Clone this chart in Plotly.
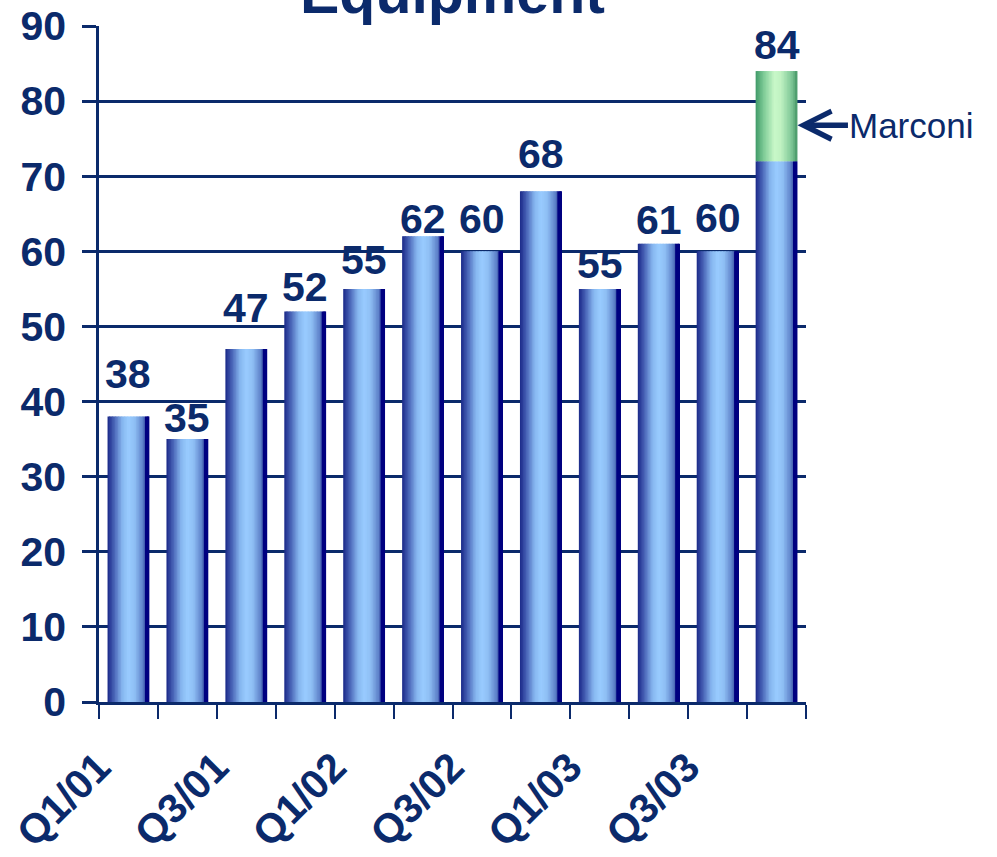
import plotly.graph_objects as go

# Quarterly equipment figures; the last quarter includes the Marconi contribution
quarters = ["Q1/01", "Q2/01", "Q3/01", "Q4/01", "Q1/02", "Q2/02",
            "Q3/02", "Q4/02", "Q1/03", "Q2/03", "Q3/03", "Q4/03"]
base_values = [38, 35, 47, 52, 55, 62, 60, 68, 55, 61, 60, 72]
marconi_values = [0, 0, 0, 0, 0, 0, 0, 0, 0, 0, 0, 12]
totals = [b + m for b, m in zip(base_values, marconi_values)]
y_ticks = list(range(0, 100, 10))

# hand-placed lift of each value label above its bar (pixels)
label_lift_px = [28, 6, 26, 9, 14, 2, 17, 22, 10, 9, 18, 11]

NAVY = "#0b2a6b"
FONT = "Liberation Sans, Arial, sans-serif"
BAR_W = 0.71
SLICES = 28


def hex_to_rgb(h):
    h = h.lstrip("#")
    return tuple(int(h[i:i + 2], 16) for i in (0, 2, 4))


def ramp(stops, t):
    for (t0, c0), (t1, c1) in zip(stops, stops[1:]):
        if t0 <= t <= t1:
            f = 0 if t1 == t0 else (t - t0) / (t1 - t0)
            a, b = hex_to_rgb(c0), hex_to_rgb(c1)
            return "rgb(%d,%d,%d)" % tuple(round(a[k] + (b[k] - a[k]) * f) for k in range(3))
    return stops[-1][1]


# horizontal shading across each bar (cylinder look)
blue_stops = [(0.0, "#1a2888"), (0.15, "#4660b4"), (0.35, "#86b6ef"),
              (0.5, "#99ccff"), (0.65, "#8fbff4"), (0.86, "#5a7cc6"),
              (0.9, "#34499f"), (0.91, "#000080"), (1.0, "#000080")]
green_stops = [(0.0, "#3f9a68"), (0.2, "#80cc98"), (0.45, "#c8f8c8"),
               (0.6, "#c0f2c2"), (0.85, "#80c898"), (1.0, "#4a9a6a")]

fig = go.Figure()
step = BAR_W / SLICES
for i in range(SLICES):
    t = (i + 0.5) / SLICES
    w = step * 1.6 if i < SLICES - 1 else step
    fig.add_trace(go.Bar(
        x=quarters, y=base_values, width=w, offset=-BAR_W / 2 + i * step,
        marker=dict(color=ramp(blue_stops, t), line=dict(width=0)),
        showlegend=False, hoverinfo="skip"))
for i in range(SLICES):
    t = (i + 0.5) / SLICES
    w = step * 1.6 if i < SLICES - 1 else step
    fig.add_trace(go.Bar(
        x=quarters, y=marconi_values, base=base_values, width=w,
        offset=-BAR_W / 2 + i * step,
        marker=dict(color=ramp(green_stops, t), line=dict(width=0)),
        showlegend=False, hoverinfo="skip"))

annotations = []
for q, v, lift in zip(quarters, totals, label_lift_px):
    annotations.append(dict(
        x=q, y=v, xref="x", yref="y", text=str(v), showarrow=False,
        yanchor="bottom", yshift=lift - 10,
        font=dict(family=FONT, size=41, color=NAVY, weight="bold")))

# Marconi call-out on the last bar
last = len(quarters) - 1
annotations.append(dict(
    x=last + BAR_W / 2, y=base_values[last] + marconi_values[last] * 0.4,
    xref="x", yref="y", text="Marconi", showarrow=True,
    ax=114, ay=0, arrowhead=5, arrowsize=1, arrowwidth=5.5,
    arrowcolor=NAVY, standoff=0,
    font=dict(family=FONT, size=35, color=NAVY)))

# chart title, sitting at the very top edge
annotations.append(dict(
    x=0.5, y=1, xref="paper", yref="paper", text="Equipment",
    showarrow=False, xanchor="center", yanchor="bottom", yshift=-2,
    font=dict(family=FONT, size=59, color=NAVY, weight="bold")))

fig.update_layout(
    barmode="overlay",
    width=997, height=857,
    margin=dict(l=99, r=191, t=26, b=155),
    paper_bgcolor="white", plot_bgcolor="white",
    annotations=annotations,
    xaxis=dict(
        type="category", range=[-0.5, len(quarters) - 0.5],
        tickmode="array", tickvals=quarters,
        ticktext=[q if i % 2 == 0 else "" for i, q in enumerate(quarters)],
        tickson="boundaries", ticks="outside", ticklen=14, tickwidth=2,
        tickcolor=NAVY, tickangle=-45, automargin=False,
        ticklabelstandoff=22, ticklabelshift=-30,
        showline=True, linecolor=NAVY, linewidth=2.5,
        showgrid=False,
        tickfont=dict(family=FONT, size=41, color=NAVY, weight="bold")),
    yaxis=dict(
        range=[0, 90], tickvals=y_ticks, automargin=False,
        ticks="outside", ticklen=14, tickwidth=2.5, tickcolor=NAVY,
        showline=True, linecolor=NAVY, linewidth=2.5,
        showgrid=True, gridcolor=NAVY, gridwidth=2.5,
        zeroline=False, ticklabelstandoff=8,
        tickfont=dict(family=FONT, size=41, color=NAVY, weight="bold")),
)

fig.write_html("out.html")
